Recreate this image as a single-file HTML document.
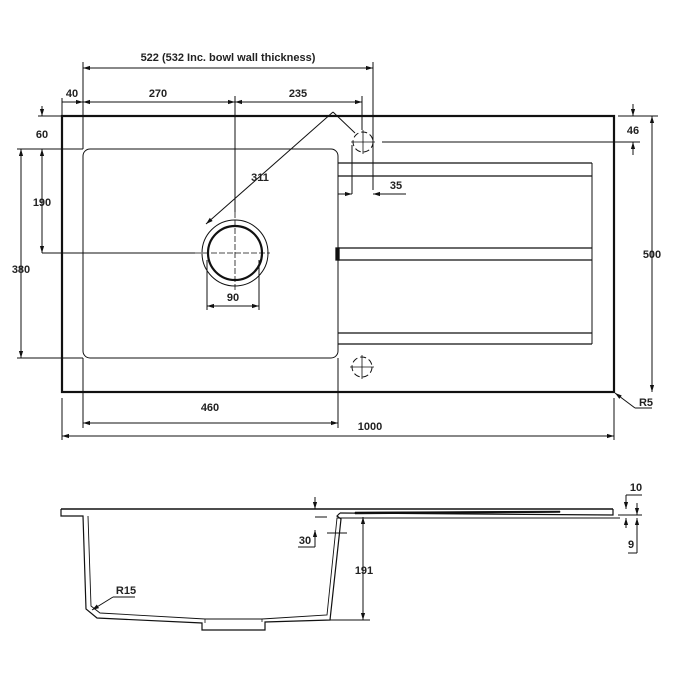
<!DOCTYPE html>
<html><head><meta charset="utf-8"><style>
html,body{margin:0;padding:0;background:#fff;}
svg{display:block;}
text{font-family:"Liberation Sans",sans-serif;font-size:11px;font-weight:bold;fill:#222;text-anchor:middle;}
</style></head><body>
<svg width="675" height="675" viewBox="0 0 675 675" xmlns="http://www.w3.org/2000/svg">
<defs>
<marker id="a" viewBox="0 0 10 10" refX="10" refY="5" markerWidth="7" markerHeight="7" orient="auto-start-reverse"><path d="M0,2 L10,5 L0,8 z" fill="#111"/></marker>
</defs>
<g fill="none" stroke="#111">
<rect x="62" y="116" width="552" height="276" stroke-width="2.2"/>
<rect x="83" y="149" width="255" height="209" rx="7" stroke-width="1"/>
<g stroke-width="1.3">
<line x1="338" y1="163" x2="592" y2="163"/><line x1="338" y1="176" x2="592" y2="176"/>
<line x1="338" y1="248" x2="592" y2="248"/><line x1="338" y1="260" x2="592" y2="260"/>
<line x1="338" y1="333" x2="592" y2="333"/><line x1="338" y1="344" x2="592" y2="344"/>
<line x1="592" y1="163" x2="592" y2="344" stroke-width="1"/>
<rect x="336" y="248" width="3" height="12" fill="#111"/>
</g>
<circle cx="235" cy="253" r="33" stroke-width="1"/>
<circle cx="235" cy="253" r="27" stroke-width="2.2"/>
<line x1="195" y1="253" x2="270" y2="253" stroke-width="0.8" stroke-dasharray="6,2"/>
<line x1="235" y1="212" x2="235" y2="290" stroke-width="0.8" stroke-dasharray="6,2"/>
<circle cx="363" cy="142" r="10" stroke-width="1" stroke-dasharray="6,3"/>
<line x1="351" y1="142" x2="375" y2="142" stroke-width="0.8"/><line x1="363" y1="130" x2="363" y2="154" stroke-width="0.8"/>
<circle cx="362" cy="367" r="10" stroke-width="1" stroke-dasharray="6,3"/>
<line x1="350" y1="367" x2="374" y2="367" stroke-width="0.8"/><line x1="362" y1="355" x2="362" y2="379" stroke-width="0.8"/>
<g stroke-width="1">
<line x1="83" y1="68" x2="373" y2="68" marker-start="url(#a)" marker-end="url(#a)"/>
<line x1="83" y1="62" x2="83" y2="149"/><line x1="373" y1="62" x2="373" y2="190"/>
<line x1="62" y1="102" x2="83" y2="102" marker-end="url(#a)"/>
<line x1="83" y1="102" x2="235" y2="102" marker-start="url(#a)" marker-end="url(#a)"/>
<line x1="235" y1="102" x2="362" y2="102" marker-start="url(#a)" marker-end="url(#a)"/>
<line x1="235" y1="96" x2="235" y2="212"/><line x1="362" y1="96" x2="362" y2="130"/>
<line x1="62" y1="98" x2="62" y2="116"/>
<line x1="333" y1="112" x2="206" y2="224" marker-end="url(#a)"/>
<line x1="333" y1="112" x2="355" y2="133"/>
<line x1="42" y1="106" x2="42" y2="116" marker-end="url(#a)"/>
<line x1="42" y1="149" x2="42" y2="253" marker-start="url(#a)" marker-end="url(#a)"/>
<line x1="38" y1="116" x2="62" y2="116"/>
<line x1="42" y1="253" x2="195" y2="253"/>
<line x1="21" y1="149" x2="21" y2="358" marker-start="url(#a)" marker-end="url(#a)"/>
<line x1="17" y1="149" x2="83" y2="149"/><line x1="17" y1="358" x2="83" y2="358"/>
<line x1="207" y1="306" x2="259" y2="306" marker-start="url(#a)" marker-end="url(#a)"/>
<line x1="207" y1="260" x2="207" y2="310"/><line x1="259" y1="260" x2="259" y2="310"/>
<line x1="338" y1="194" x2="352" y2="194" marker-end="url(#a)"/>
<line x1="406" y1="194" x2="373" y2="194" marker-end="url(#a)"/>
<line x1="352" y1="145" x2="352" y2="194"/>
<line x1="633" y1="104" x2="633" y2="116" marker-end="url(#a)"/>
<line x1="633" y1="155" x2="633" y2="142" marker-end="url(#a)"/>
<line x1="382" y1="142" x2="640" y2="142"/>
<line x1="618" y1="116" x2="658" y2="116"/>
<line x1="652" y1="116" x2="652" y2="392" marker-start="url(#a)" marker-end="url(#a)"/>
<line x1="652" y1="408" x2="635" y2="408"/><line x1="635" y1="408" x2="615" y2="393" marker-end="url(#a)"/>
<line x1="83" y1="423" x2="338" y2="423" marker-start="url(#a)" marker-end="url(#a)"/>
<line x1="83" y1="358" x2="83" y2="428"/><line x1="338" y1="358" x2="338" y2="428"/>
<line x1="62" y1="436" x2="614" y2="436" marker-start="url(#a)" marker-end="url(#a)"/>
<line x1="62" y1="398" x2="62" y2="440"/><line x1="614" y1="398" x2="614" y2="440"/>
</g>
<!-- side view -->
<g stroke-width="1.2">
<line x1="61" y1="509" x2="613" y2="509" stroke-width="1.4"/>
<polyline points="613,509 613,515 340,513"/>
<path d="M355,512 L560,511 L560,512.5 L355,514 z" fill="#111" stroke-width="0.5"/>
<polyline points="61,509 61,516 83,516 86,609 97,618 202,623 202,630 265,630 265,622 330,620 341,519 337,516 340,513"/>
<polyline points="88,516 91,606 100,613 205,619 262,619 327,615 337,518 620,518" stroke-width="0.9"/>
<line x1="205" y1="619" x2="205" y2="623" stroke-width="0.8"/>
<line x1="262" y1="619" x2="262" y2="622" stroke-width="0.8"/>
</g>
<g stroke-width="1">
<line x1="315" y1="497" x2="315" y2="509" marker-end="url(#a)"/>
<line x1="315" y1="547" x2="315" y2="530" marker-end="url(#a)"/>
<line x1="298" y1="547" x2="315" y2="547"/>
<line x1="315" y1="517" x2="327" y2="517"/><line x1="327" y1="533" x2="347" y2="533"/>
<line x1="363" y1="517" x2="363" y2="620" marker-start="url(#a)" marker-end="url(#a)"/>
<line x1="330" y1="620" x2="370" y2="620"/>
<line x1="626" y1="495" x2="642" y2="495"/>
<line x1="626" y1="495" x2="626" y2="509" marker-end="url(#a)"/>
<line x1="637" y1="503" x2="637" y2="515" marker-end="url(#a)"/>
<line x1="626" y1="528" x2="626" y2="518" marker-end="url(#a)"/>
<line x1="637" y1="553" x2="637" y2="518" marker-end="url(#a)"/>
<line x1="618" y1="515" x2="642" y2="515"/>
<line x1="628" y1="553" x2="637" y2="553"/>
<line x1="135" y1="597" x2="113" y2="597"/><line x1="113" y1="597" x2="92" y2="610" marker-end="url(#a)"/>
</g>
</g>
<text x="228" y="61">522 (532 Inc. bowl wall thickness)</text>
<text x="72" y="97">40</text>
<text x="158" y="97">270</text>
<text x="298" y="97">235</text>
<text x="260" y="181">311</text>
<text x="42" y="138">60</text>
<text x="42" y="206">190</text>
<text x="21" y="273">380</text>
<text x="233" y="301">90</text>
<text x="396" y="189">35</text>
<text x="633" y="134">46</text>
<text x="652" y="258">500</text>
<text x="646" y="406">R5</text>
<text x="210" y="411">460</text>
<text x="370" y="430">1000</text>
<text x="305" y="544">30</text>
<text x="364" y="574">191</text>
<text x="636" y="491">10</text>
<text x="631" y="548">9</text>
<text x="126" y="594">R15</text>
</svg>
</body></html>
